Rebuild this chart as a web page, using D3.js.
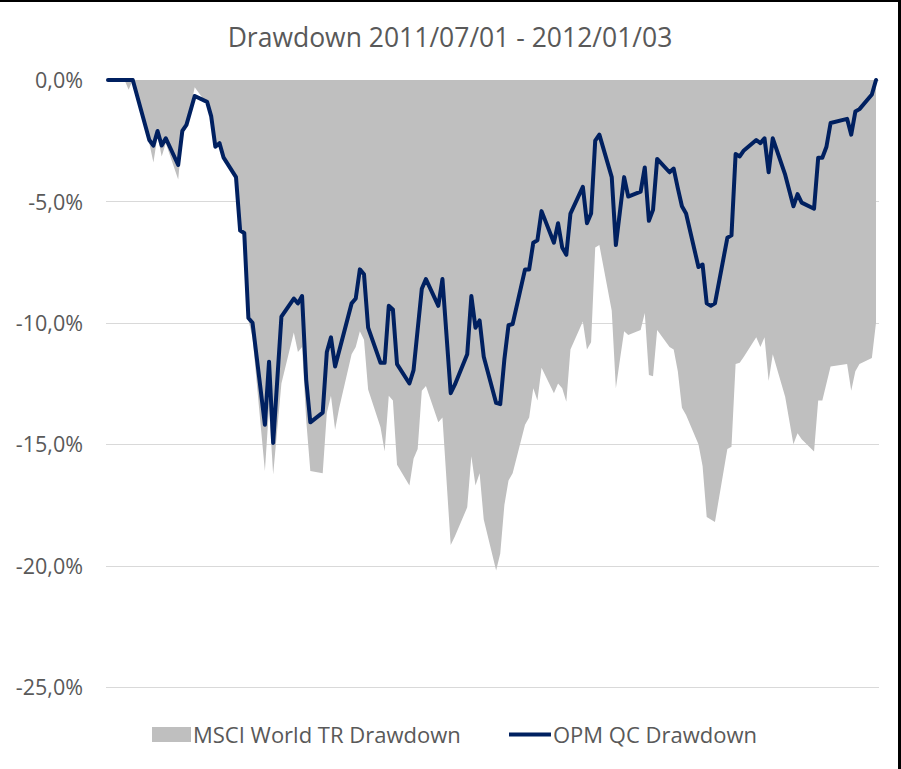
<!DOCTYPE html>
<html>
<head>
<meta charset="utf-8">
<script src="https://cdn.jsdelivr.net/npm/d3@7"></script>
<style>
  html, body { margin: 0; padding: 0; background: #ffffff; }
  svg { display: block; }
</style>
</head>
<body>
<svg id="chart" width="901" height="769"></svg>
<script>
// ---------------- DATA ----------------
const title = "Drawdown 2011/07/01 - 2012/01/03";
const seriesNames = ["MSCI World TR Drawdown", "OPM QC Drawdown"];

const yTicks = [0, -5, -10, -15, -20, -25];
const yTickLabels = ["0,0%", "-5,0%", "-10,0%", "-15,0%", "-20,0%", "-25,0%"];

// OPM QC drawdown (%)
const opmDates = [
  "2011-07-01","2011-07-07","2011-07-11","2011-07-12","2011-07-13","2011-07-14","2011-07-15",
  "2011-07-18","2011-07-19","2011-07-20","2011-07-22","2011-07-25","2011-07-26","2011-07-27",
  "2011-07-28","2011-07-29","2011-08-01","2011-08-02","2011-08-03","2011-08-04","2011-08-05",
  "2011-08-08","2011-08-09","2011-08-10","2011-08-12","2011-08-15","2011-08-16","2011-08-17",
  "2011-08-18","2011-08-19","2011-08-22","2011-08-23","2011-08-24","2011-08-25","2011-08-29",
  "2011-08-30","2011-08-31","2011-09-01","2011-09-02","2011-09-05","2011-09-06","2011-09-07",
  "2011-09-08","2011-09-09","2011-09-12","2011-09-13","2011-09-15","2011-09-16","2011-09-19",
  "2011-09-20","2011-09-22","2011-09-23","2011-09-26","2011-09-27","2011-09-28","2011-09-29",
  "2011-09-30","2011-10-03","2011-10-04","2011-10-05","2011-10-06","2011-10-07","2011-10-10",
  "2011-10-11","2011-10-12","2011-10-13","2011-10-14","2011-10-17","2011-10-18","2011-10-19",
  "2011-10-20","2011-10-21","2011-10-24","2011-10-25","2011-10-26","2011-10-27","2011-10-28",
  "2011-10-31","2011-11-01","2011-11-03","2011-11-04","2011-11-07","2011-11-08","2011-11-09",
  "2011-11-10","2011-11-11","2011-11-14","2011-11-15","2011-11-16","2011-11-17","2011-11-18",
  "2011-11-21","2011-11-22","2011-11-23","2011-11-24","2011-11-25","2011-11-28","2011-11-29",
  "2011-11-30","2011-12-01","2011-12-02","2011-12-05","2011-12-06","2011-12-07","2011-12-08",
  "2011-12-09","2011-12-12","2011-12-14","2011-12-15","2011-12-16","2011-12-19","2011-12-20",
  "2011-12-21","2011-12-22","2011-12-23","2011-12-27","2011-12-28","2011-12-29","2011-12-30",
  "2012-01-02","2012-01-03"
];
const opmValues = [
  0, 0, -2.47, -2.7, -2.1, -2.7, -2.4,
  -3.5, -2.1, -1.85, -0.66, -0.9, -1.5, -2.75,
  -2.6, -3.2, -4.0, -6.2, -6.3, -9.8, -10.0,
  -14.2, -11.6, -14.95, -9.75, -9.0, -9.2, -8.9,
  -12.35, -14.1, -13.7, -11.2, -10.6, -11.8, -9.2,
  -9.0, -7.8, -8.0, -10.2, -11.65, -11.65, -9.3,
  -9.45, -11.7, -12.5, -11.95, -8.6, -8.2, -9.3,
  -8.2, -12.9, -12.55, -11.3, -8.9, -10.2, -9.9,
  -11.4, -13.3, -13.35, -11.5, -10.1, -10.05, -7.8,
  -7.8, -6.7, -6.6, -5.4, -6.7, -5.9, -6.9,
  -7.2, -5.5, -4.4, -5.9, -5.5, -2.5, -2.25,
  -4.0, -6.8, -4.0, -4.8, -4.6, -3.6, -5.8,
  -5.35, -3.25, -3.8, -3.65, -4.45, -5.2, -5.5,
  -7.7, -7.6, -9.2, -9.3, -9.2, -6.5, -6.4,
  -3.05, -3.15, -2.9, -2.47, -2.6, -2.4, -3.8,
  -2.4, -3.9, -5.2, -4.7, -5.05, -5.3, -3.2,
  -3.2, -2.75, -1.77, -1.6, -2.25, -1.3, -1.2,
  -0.6, 0
];

// MSCI World TR drawdown (%)
const msciDates = [
  "2011-07-01","2011-07-05","2011-07-06","2011-07-07","2011-07-08","2011-07-11","2011-07-12",
  "2011-07-13","2011-07-14","2011-07-15","2011-07-18","2011-07-19","2011-07-20","2011-07-22",
  "2011-07-25","2011-07-26","2011-07-27","2011-07-28","2011-07-29","2011-08-01","2011-08-02",
  "2011-08-03","2011-08-04","2011-08-05","2011-08-08","2011-08-09","2011-08-10","2011-08-12",
  "2011-08-15","2011-08-16","2011-08-17","2011-08-18","2011-08-19","2011-08-22","2011-08-23",
  "2011-08-24","2011-08-25","2011-08-26","2011-08-29","2011-08-30","2011-08-31","2011-09-01",
  "2011-09-02","2011-09-05","2011-09-06","2011-09-07","2011-09-08","2011-09-09","2011-09-12",
  "2011-09-13","2011-09-14","2011-09-15","2011-09-16","2011-09-19","2011-09-20","2011-09-22",
  "2011-09-23","2011-09-26","2011-09-27","2011-09-28","2011-09-29","2011-09-30","2011-10-03",
  "2011-10-04","2011-10-05","2011-10-06","2011-10-07","2011-10-10","2011-10-11","2011-10-12",
  "2011-10-13","2011-10-14","2011-10-17","2011-10-18","2011-10-19","2011-10-20","2011-10-21",
  "2011-10-24","2011-10-25","2011-10-26","2011-10-27","2011-10-28","2011-10-31","2011-11-01",
  "2011-11-02","2011-11-03","2011-11-04","2011-11-07","2011-11-08","2011-11-09","2011-11-10",
  "2011-11-11","2011-11-14","2011-11-15","2011-11-16","2011-11-17","2011-11-18","2011-11-21",
  "2011-11-22","2011-11-23","2011-11-24","2011-11-25","2011-11-28","2011-11-29","2011-11-30",
  "2011-12-01","2011-12-02","2011-12-05","2011-12-06","2011-12-07","2011-12-08","2011-12-09",
  "2011-12-12","2011-12-14","2011-12-15","2011-12-16","2011-12-19","2011-12-20","2011-12-21",
  "2011-12-22","2011-12-23","2011-12-27","2011-12-28","2011-12-29","2011-12-30","2012-01-02",
  "2012-01-03"
];
const msciValues = [
  0, 0, -0.4, 0, -0.5, -2.6, -3.4,
  -2.3, -3.15, -2.6, -4.1, -2.3, -1.95, -0.3,
  -1.0, -1.6, -2.8, -2.7, -3.3, -4.1, -6.3,
  -6.4, -9.9, -10.6, -16.1, -13.5, -16.25, -12.5,
  -10.4, -11.2, -11.0, -14.0, -16.1, -16.2, -13.7,
  -13.0, -14.4, -13.5, -11.3, -11.0, -10.35, -10.7,
  -12.75, -14.3, -15.3, -13.0, -13.2, -15.85, -16.7,
  -15.6, -15.2, -12.8, -12.6, -14.1, -13.9, -19.15,
  -18.8, -17.6, -15.5, -16.7, -16.2, -18.1, -20.2,
  -19.5, -17.5, -16.5, -16.2, -14.2, -13.9, -12.7,
  -13.2, -11.85, -12.9, -12.5, -12.7, -13.25, -11.1,
  -9.95, -11.1, -10.8, -6.9, -6.8, -9.5, -12.7,
  -11.5, -10.35, -10.5, -10.3, -9.6, -12.15, -12.2,
  -10.3, -11.0, -11.1, -12.0, -13.5, -13.8, -15.0,
  -15.9, -18.0, -18.1, -18.2, -15.2, -15.1, -11.7,
  -11.65, -11.4, -10.6, -11.0, -10.6, -12.4, -11.3,
  -13.05, -15.0, -14.55, -14.8, -15.3, -13.2, -13.2,
  -12.5, -11.8, -11.7, -12.8, -12.0, -11.7, -11.45,
  -10.0
];

// ---------------- CHART ----------------
const W = 901, H = 769;
const plot = { left: 108, right: 876, top: 80, bottom: 687 };
const gridX0 = 106, gridX1 = 879;
const textColor = "#595959";
const areaColor = "#bfbfbf";
const lineColor = "#002060";
const font = "'Open Sans', 'Noto Sans', sans-serif";

const parse = d3.timeParse("%Y-%m-%d");
const opm = opmDates.map((d, i) => ({ date: parse(d), value: opmValues[i] }));
const msci = msciDates.map((d, i) => ({ date: parse(d), value: msciValues[i] }));

const svg = d3.select("#chart");

svg.append("rect").attr("x", 0).attr("y", 0).attr("width", W).attr("height", H).attr("fill", "#fff");

const x = d3.scaleTime()
  .domain([parse(opmDates[0]), parse(opmDates[opmDates.length - 1])])
  .range([plot.left, plot.right]);

const y = d3.scaleLinear()
  .domain([d3.min(yTicks), d3.max(yTicks)])
  .range([plot.bottom, plot.top]);

// gridlines
svg.append("g").selectAll("line")
  .data(yTicks)
  .join("line")
  .attr("x1", gridX0).attr("x2", gridX1)
  .attr("y1", d => Math.round(y(d)) + 0.5).attr("y2", d => Math.round(y(d)) + 0.5)
  .attr("stroke", "#d9d9d9").attr("stroke-width", 1);

// y axis labels (via d3 axis, domain/ticks hidden)
const yAxis = d3.axisLeft(y)
  .tickValues(yTicks)
  .tickFormat(d => yTickLabels[yTicks.indexOf(d)])
  .tickSize(0)
  .tickPadding(0);

const gy = svg.append("g")
  .attr("transform", `translate(83,0)`)
  .call(yAxis);
gy.select(".domain").remove();
gy.selectAll("text")
  .attr("fill", textColor)
  .attr("font-family", font)
  .attr("font-size", "21.5px")
  .attr("dy", "0.36em");

// MSCI area
const area = d3.area()
  .x(d => x(d.date))
  .y0(y(0))
  .y1(d => y(d.value));

svg.append("path")
  .datum(msci)
  .attr("d", area)
  .attr("fill", areaColor);

// OPM line
const line = d3.line()
  .x(d => x(d.date))
  .y(d => y(d.value));

svg.append("path")
  .datum(opm)
  .attr("d", line)
  .attr("fill", "none")
  .attr("stroke", lineColor)
  .attr("stroke-width", 4)
  .attr("stroke-linejoin", "round")
  .attr("stroke-linecap", "round");

// title
svg.append("text")
  .attr("x", 450).attr("y", 47)
  .attr("text-anchor", "middle")
  .attr("fill", textColor)
  .attr("font-family", font)
  .attr("font-size", "26.5px")
  .text(title);

// legend
const lg = svg.append("g");
lg.append("rect")
  .attr("x", 152).attr("y", 727).attr("width", 39).attr("height", 15)
  .attr("fill", areaColor);
lg.append("text")
  .attr("x", 193).attr("y", 735)
  .attr("dy", "0.36em")
  .attr("fill", textColor)
  .attr("font-family", font)
  .attr("font-size", "22px")
  .text(seriesNames[0]);
lg.append("line")
  .attr("x1", 509).attr("x2", 551).attr("y1", 734.5).attr("y2", 734.5)
  .attr("stroke", lineColor).attr("stroke-width", 4);
lg.append("text")
  .attr("x", 553).attr("y", 735)
  .attr("dy", "0.36em")
  .attr("fill", textColor)
  .attr("font-family", font)
  .attr("font-size", "22px")
  .text(seriesNames[1]);

// outer frame (top and right edges visible)
svg.append("line").attr("x1", 0).attr("x2", W).attr("y1", 1).attr("y2", 1)
  .attr("stroke", "#000").attr("stroke-width", 2);
svg.append("line").attr("x1", 899.5).attr("x2", 899.5).attr("y1", 0).attr("y2", H)
  .attr("stroke", "#000").attr("stroke-width", 3);
</script>
</body>
</html>
